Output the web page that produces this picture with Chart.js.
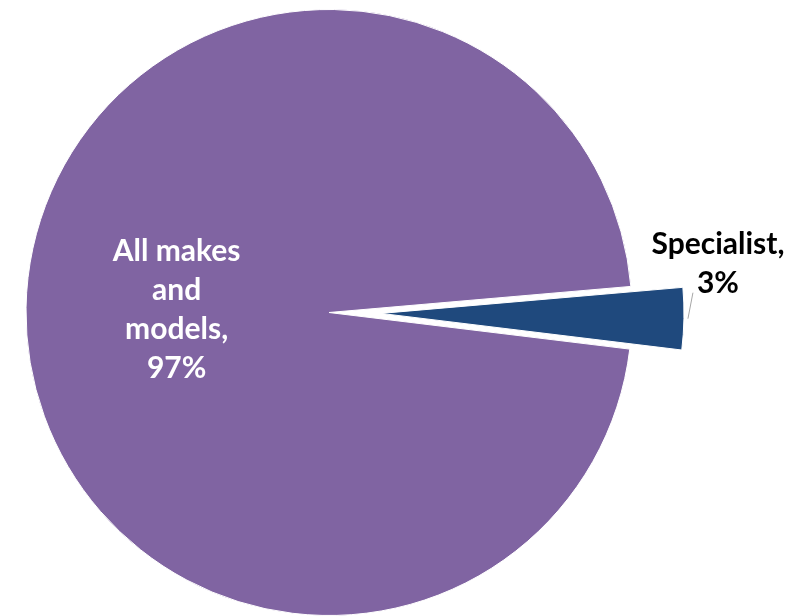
<!DOCTYPE html>
<html>
<head>
<meta charset="utf-8">
<script src="https://cdn.jsdelivr.net/npm/chart.js@4"></script>
<style>
html,body{margin:0;padding:0;background:#fff;}
#wrap{width:789px;height:616px;}
</style>
</head>
<body>
<div id="wrap"><canvas id="c" width="789" height="616"></canvas></div>
<script>
const categories = ["All makes and models", "Specialist"];
const shares = [96.7, 3.3];
const labelLines = [["All makes", "and", "models,", "97%"], ["Specialist,", "3%"]];
const colors = ["#8064A2", "#1F497D"];
const explode = [0, 52];

const FONT = "bold 30px Lato, 'Open Sans', sans-serif";
const LINE_H = 39;
const CAP = 20;

// draw each arc element shifted along its mid-angle (exploded slice)
const explodeDraw = {
  id: 'explodeDraw',
  beforeDatasetDraw(chart, args) {
    const ctx = chart.ctx;
    const area = chart.chartArea;
    args.meta.data.forEach((arc, i) => {
      const d = explode[i] || 0;
      const mid = (arc.startAngle + arc.endAngle) / 2;
      ctx.save();
      ctx.translate(Math.cos(mid) * d, Math.sin(mid) * d);
      arc.draw(ctx, area);
      ctx.restore();
    });
    return false;
  }
};

function drawLines(ctx, lines, cx, cy) {
  const n = lines.length;
  lines.forEach((t, i) => {
    ctx.fillText(t, cx, cy - (n - 1) / 2 * LINE_H + i * LINE_H + CAP / 2);
  });
}

const labels = {
  id: 'sliceLabels',
  afterDatasetsDraw(chart) {
    const ctx = chart.ctx;
    const meta = chart.getDatasetMeta(0);
    ctx.save();
    ctx.font = FONT;
    ctx.textAlign = 'center';
    ctx.textBaseline = 'alphabetic';
    meta.data.forEach((arc, i) => {
      const mid = (arc.startAngle + arc.endAngle) / 2;
      const d = explode[i] || 0;
      const ox = arc.x + Math.cos(mid) * d;
      const oy = arc.y + Math.sin(mid) * d;
      if (i === 0) {
        ctx.fillStyle = '#FFFFFF';
        const r = arc.outerRadius * 0.503;
        drawLines(ctx, labelLines[i], ox + Math.cos(mid) * r, oy + Math.sin(mid) * r);
      } else {
        const R = arc.outerRadius;
        const rx = ox + Math.cos(mid) * R;
        const ry = oy + Math.sin(mid) * R;
        ctx.strokeStyle = '#A6A6A6';
        ctx.lineWidth = 1;
        ctx.beginPath();
        ctx.moveTo(rx + 4, ry);
        ctx.lineTo(rx + 9, ry - 26);
        ctx.stroke();
        ctx.fillStyle = '#000000';
        drawLines(ctx, labelLines[i], rx + 34, ry - 55);
      }
    });
    ctx.restore();
  }
};

new Chart(document.getElementById('c'), {
  type: 'pie',
  data: {
    labels: categories,
    datasets: [{
      data: shares,
      backgroundColor: colors,
      borderColor: '#FFFFFF',
      borderWidth: 1,
      hoverOffset: 0,
      radius: 303
    }]
  },
  options: {
    responsive: false,
    devicePixelRatio: 1,
    animation: false,
    rotation: 96.94,
    radius: 303,
    layout: { padding: { left: 0, right: 131, top: 9, bottom: 0 } },
    plugins: { legend: { display: false }, tooltip: { enabled: false } },
    events: []
  },
  plugins: [explodeDraw, labels]
});
</script>
</body>
</html>
